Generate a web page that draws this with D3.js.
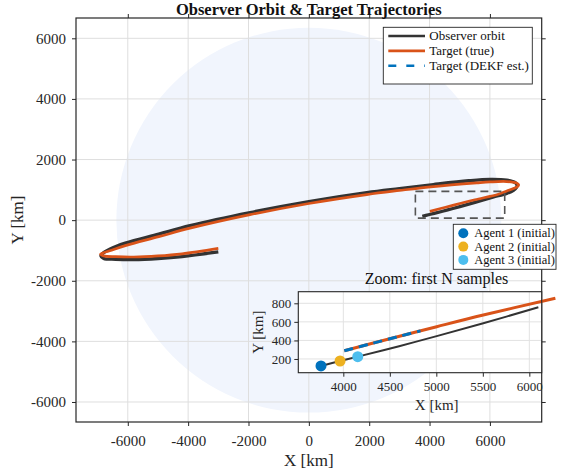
<!DOCTYPE html>
<html>
<head>
<meta charset="utf-8">
<script src="https://cdn.jsdelivr.net/npm/d3@7"></script>
<style>
  body { margin: 0; background: #fff; }
  svg { display: block; font-family: "Liberation Serif", "Times New Roman", serif; }
  .tick text { fill: #262626; }
</style>
</head>
<body>
<div id="chart"></div>
<script>
// full trajectories (km)
const observerX = [3760, 3965, 4155, 4600, 5004, 5505, 6097, 6560, 6780, 6880, 6900, 6840, 6560, 6006, 5300, 4127, 3000, 1919, 0, -1949, -3938, -4975, -6082, -6600, -6850, -6890, -6799, -6400, -5800, -5000, -4200, -3000];
const observerY = [125, 178, 225, 338, 446, 585, 757, 885, 985, 1080, 1150, 1240, 1320, 1345, 1300, 1175, 1040, 905, 610, 250, -180, -460, -760, -960, -1110, -1180, -1262, -1290, -1300, -1265, -1200, -1046];
const targetX = [4011, 4500, 5004, 5505, 6280, 6560, 6800, 6930, 6950, 6880, 6560, 6006, 5565, 4127, 3000, 1919, 0, -1949, -3938, -4975, -6082, -6600, -6850, -6905, -6800, -6400, -5800, -5000, -4200, -3000];
const targetY = [289, 418, 548, 674, 854, 960, 1050, 1120, 1170, 1225, 1274, 1262, 1231, 1109, 980, 845, 550, 180, -265, -545, -840, -1010, -1090, -1125, -1180, -1205, -1215, -1180, -1110, -930];
const estimateX = [4011, 4300, 4600, 4830];
const estimateY = [289, 365, 443, 503];

// first N samples (inset)
const insetObsX = [3760, 3965, 4155, 4600, 5004, 5505, 6097];
const insetObsY = [125, 178, 225, 338, 446, 585, 757];
const insetTgtX = [4011, 4500, 5004, 5505, 6280];
const insetTgtY = [289, 418, 548, 674, 854];
const agentNames = ["Agent 1 (initial)", "Agent 2 (initial)", "Agent 3 (initial)"];
const agentX = [3760, 3965, 4155];
const agentY = [125, 178, 225];

const earthRadius = 6378;
const zoomBoxX = [3530, 6490];
const zoomBoxY = [66, 950];

const mainXTicks = [-6000, -4000, -2000, 0, 2000, 4000, 6000];
const mainYTicks = [-6000, -4000, -2000, 0, 2000, 4000, 6000];
const insetXTicks = [4000, 4500, 5000, 5500, 6000];
const insetYTicks = [200, 400, 600, 800];

const colObs = "#333333", colTrue = "#D95319", colEst = "#0072BD";
const agentColors = ["#0072BD", "#EDB120", "#4DBEEE"];

const W = 573, H = 472;
const svg = d3.select("#chart").append("svg").attr("width", W).attr("height", H);

// main axes
const x = d3.scaleLinear().domain([-7716, 7716]).range([76, 541.7]);
const y = d3.scaleLinear().domain([-6660, 6670]).range([422, 18]);
const fmt = d => String(d);

svg.append("circle")
  .attr("cx", x(0)).attr("cy", y(0))
  .attr("r", x(earthRadius) - x(0))
  .attr("fill", "#f1f5fd");

// grid
const grid = svg.append("g").attr("stroke", "#dedede").attr("stroke-width", 1);
grid.selectAll(".gx").data(mainXTicks).enter().append("line")
  .attr("x1", d => x(d)).attr("x2", d => x(d)).attr("y1", 18).attr("y2", 422);
grid.selectAll(".gy").data(mainYTicks).enter().append("line")
  .attr("y1", d => y(d)).attr("y2", d => y(d)).attr("x1", 76).attr("x2", 541.7);

const line = d3.line().x(d => x(d[0])).y(d => y(d[1])).curve(d3.curveCatmullRom.alpha(0.5));
const zip = (a, b) => a.map((v, i) => [v, b[i]]);

svg.append("path").datum(zip(observerX, observerY)).attr("d", line)
  .attr("fill", "none").attr("stroke", colObs).attr("stroke-width", 3.3);
svg.append("path").datum(zip(targetX, targetY)).attr("d", line)
  .attr("fill", "none").attr("stroke", colTrue).attr("stroke-width", 2.7);

// zoom box
svg.append("rect")
  .attr("x", x(zoomBoxX[0])).attr("y", y(zoomBoxY[1]))
  .attr("width", x(zoomBoxX[1]) - x(zoomBoxX[0]))
  .attr("height", y(zoomBoxY[0]) - y(zoomBoxY[1]))
  .attr("fill", "none").attr("stroke", "#555").attr("stroke-width", 1.6).attr("stroke-dasharray", "8,5");

// axes
function styleAxis(g, fs) {
  g.select(".domain").remove();
  g.selectAll(".tick line").attr("stroke", "#262626");
  g.selectAll(".tick text").attr("font-size", fs).attr("font-family", "Liberation Serif");
}
svg.append("g").attr("transform", "translate(0,422)")
  .call(d3.axisBottom(x).tickValues(mainXTicks).tickSize(4).tickPadding(9).tickFormat(fmt))
  .call(g => styleAxis(g, 15));
svg.append("g").attr("transform", "translate(0,18)")
  .call(d3.axisTop(x).tickValues(mainXTicks).tickSize(4).tickFormat(""))
  .call(g => styleAxis(g, 15));
svg.append("g").attr("transform", "translate(76,0)")
  .call(d3.axisLeft(y).tickValues(mainYTicks).tickSize(4).tickPadding(6).tickFormat(fmt))
  .call(g => styleAxis(g, 15));
svg.append("g").attr("transform", "translate(541.7,0)")
  .call(d3.axisRight(y).tickValues(mainYTicks).tickSize(4).tickFormat(""))
  .call(g => styleAxis(g, 15));
svg.append("rect").attr("x", 76).attr("y", 18).attr("width", 541.7 - 76).attr("height", 404)
  .attr("fill", "none").attr("stroke", "#262626").attr("stroke-width", 1.2);

svg.append("text").attr("x", 308.8).attr("y", 14.5).attr("text-anchor", "middle")
  .attr("font-size", 16.5).attr("font-weight", "bold").attr("fill", "#111")
  .text("Observer Orbit & Target Trajectories");
svg.append("text").attr("x", 308.8).attr("y", 466).attr("text-anchor", "middle")
  .attr("font-size", 17).attr("fill", "#262626").text("X [km]");
svg.append("text").attr("transform", "translate(23,220) rotate(-90)").attr("text-anchor", "middle")
  .attr("font-size", 17).attr("fill", "#262626").text("Y [km]");

// legend 1
const leg = svg.append("g");
leg.append("rect").attr("x", 383.3).attr("y", 27.3).attr("width", 149).attr("height", 56.7)
  .attr("fill", "#fff").attr("stroke", "#262626").attr("stroke-width", 0.9);
const legItems = [
  {label: "Observer orbit", color: colObs, dash: null},
  {label: "Target (true)", color: colTrue, dash: null},
  {label: "Target (DEKF est.)", color: colEst, dash: "8,10"}
];
legItems.forEach((d, i) => {
  const cy = 36 + i * 14.9;
  leg.append("line").attr("x1", 388.3).attr("x2", 425).attr("y1", cy).attr("y2", cy)
    .attr("stroke", d.color).attr("stroke-width", 2.6).attr("stroke-dasharray", d.dash);
  leg.append("text").attr("x", 429.3).attr("y", cy + 4).attr("font-size", 13).attr("fill", "#111").text(d.label);
});

// inset
const ix = d3.scaleLinear().domain([3516, 6133]).range([298.3, 541.7]);
const iy = d3.scaleLinear().domain([52, 925]).range([372.7, 291.7]);
const inset = svg.append("g");
inset.append("rect").attr("x", 298.3).attr("y", 291.7).attr("width", 541.7 - 298.3).attr("height", 81)
  .attr("fill", "#fff");
const ig = inset.append("g").attr("stroke", "#e2e2e2").attr("stroke-width", 1);
ig.selectAll(".gx").data(insetXTicks).enter().append("line")
  .attr("x1", d => ix(d)).attr("x2", d => ix(d)).attr("y1", 291.7).attr("y2", 372.7);
ig.selectAll(".gy").data(insetYTicks).enter().append("line")
  .attr("y1", d => iy(d)).attr("y2", d => iy(d)).attr("x1", 298.3).attr("x2", 541.7);

const iline = d3.line().x(d => ix(d[0])).y(d => iy(d[1])).curve(d3.curveCatmullRom.alpha(0.5));
inset.append("path").datum(zip(insetObsX, insetObsY)).attr("d", iline)
  .attr("fill", "none").attr("stroke", colObs).attr("stroke-width", 2);
inset.append("path").datum(zip(insetTgtX, insetTgtY)).attr("d", iline)
  .attr("fill", "none").attr("stroke", colTrue).attr("stroke-width", 3);
inset.append("path").datum(zip(estimateX, estimateY)).attr("d", iline)
  .attr("fill", "none").attr("stroke", colEst).attr("stroke-width", 3).attr("stroke-dasharray", "9,6");
inset.selectAll(".agent").data(agentX).enter().append("circle")
  .attr("cx", d => ix(d)).attr("cy", (d, i) => iy(agentY[i])).attr("r", 5.5)
  .attr("fill", (d, i) => agentColors[i]);

inset.append("g").attr("transform", "translate(0,372.7)")
  .call(d3.axisBottom(ix).tickValues(insetXTicks).tickSize(4).tickPadding(5).tickFormat(fmt))
  .call(g => styleAxis(g, 13));
inset.append("g").attr("transform", "translate(298.3,0)")
  .call(d3.axisLeft(iy).tickValues(insetYTicks).tickSize(4).tickPadding(3).tickFormat(fmt))
  .call(g => styleAxis(g, 13));
inset.append("rect").attr("x", 298.3).attr("y", 291.7).attr("width", 541.7 - 298.3).attr("height", 81)
  .attr("fill", "none").attr("stroke", "#262626").attr("stroke-width", 1.1);
inset.append("text").attr("x", 436.5).attr("y", 284).attr("text-anchor", "middle")
  .attr("font-size", 16).attr("fill", "#111").text("Zoom: first N samples");
inset.append("text").attr("x", 436.7).attr("y", 410).attr("text-anchor", "middle")
  .attr("font-size", 15).attr("fill", "#262626").text("X [km]");
inset.append("text").attr("transform", "translate(263,332.2) rotate(-90)").attr("text-anchor", "middle")
  .attr("font-size", 15).attr("fill", "#262626").text("Y [km]");

// legend 2 (agents)
const leg2 = svg.append("g");
leg2.append("rect").attr("x", 453.3).attr("y", 224.3).attr("width", 102.7).attr("height", 45)
  .attr("fill", "#fff").attr("stroke", "#262626").attr("stroke-width", 0.9);
agentNames.forEach((name, i) => {
  const cy = 233.3 + i * 13.3;
  leg2.append("circle").attr("cx", 463.3).attr("cy", cy).attr("r", 5).attr("fill", agentColors[i]);
  leg2.append("text").attr("x", 474.3).attr("y", cy + 4).attr("font-size", 12.5).attr("fill", "#111").text(name);
});
</script>
</body>
</html>
